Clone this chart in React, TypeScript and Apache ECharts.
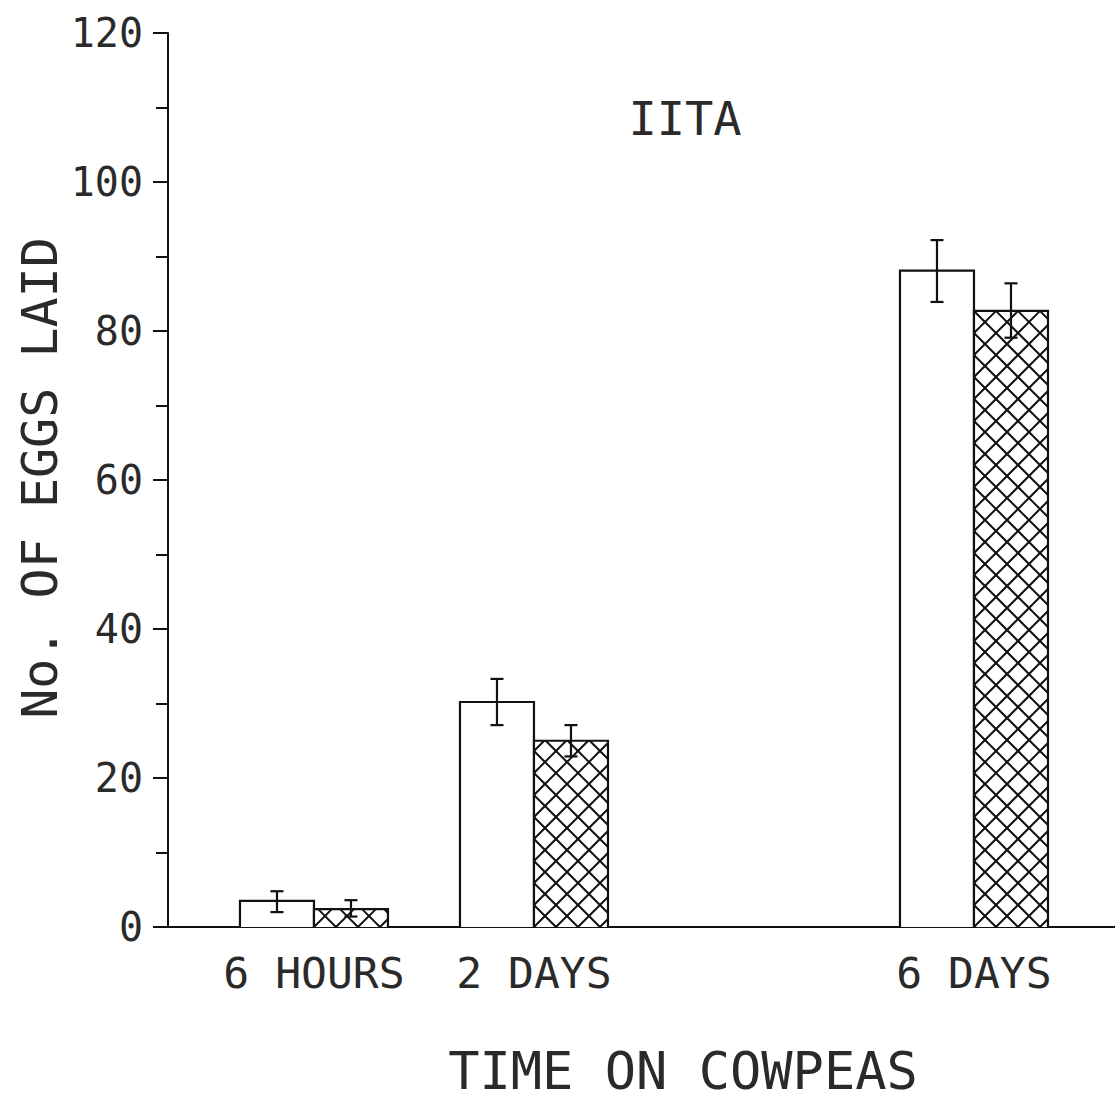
import React, { useEffect, useRef } from "react";
import * as echarts from "echarts";

const categories = ["6 HOURS", "2 DAYS", "6 DAYS"];
const xPositions = [0, 2, 6];
const openMeans = [3.5, 30.2, 88.1];
const openLow = [2.0, 27.1, 83.9];
const openHigh = [4.8, 33.3, 92.2];
const hatchMeans = [2.4, 25.0, 82.7];
const hatchLow = [1.4, 22.9, 79.1];
const hatchHigh = [3.6, 27.1, 86.4];
const yTicks = [0, 20, 40, 60, 80, 100, 120];

const FONT = "'DejaVu Sans Mono', monospace";
const INK = "#111";
const TEXT_INK = "#2a2a2a";
const BAR_PX = 74;
const HATCH_PX = 22;

function hatchLines(x0: number, x1: number, y0: number, y1: number, style: any) {
  const out: any[] = [];
  const cStartA = y1 - x0;
  for (let k = -60; k <= 60; k++) {
    const c = cStartA + k * HATCH_PX;
    const a = Math.max(x0, y0 - c);
    const b = Math.min(x1, y1 - c);
    if (b - a > 0.5) {
      out.push({ type: "line", shape: { x1: a, y1: a + c, x2: b, y2: b + c }, style });
    }
  }
  const cStartB = x0 + y1;
  for (let k = -60; k <= 60; k++) {
    const c = cStartB + k * HATCH_PX;
    const a = Math.max(x0, c - y1);
    const b = Math.min(x1, c - y0);
    if (b - a > 0.5) {
      out.push({ type: "line", shape: { x1: a, y1: c - a, x2: b, y2: c - b }, style });
    }
  }
  return out;
}

function makeRender(hatched: boolean) {
  return (params: any, api: any) => {
    const x = api.value(0);
    const mean = api.value(1);
    const lo = api.value(2);
    const hi = api.value(3);
    const top = api.coord([x, mean]);
    const base = api.coord([x, 0]);
    const pLo = api.coord([x, lo]);
    const pHi = api.coord([x, hi]);
    const cx = top[0];
    const x0 = hatched ? cx : cx - BAR_PX;
    const x1 = hatched ? cx + BAR_PX : cx;
    const y0 = top[1];
    const y1 = base[1];
    const ex = (x0 + x1) / 2;
    const lineStyle = { stroke: INK, lineWidth: 2.2, fill: null };
    const children: any[] = [
      { type: "rect", shape: { x: x0, y: y0, width: x1 - x0, height: y1 - y0 }, style: { fill: "#fff", stroke: null } },
    ];
    if (hatched) children.push(...hatchLines(x0, x1, y0, y1, { stroke: INK, lineWidth: 2 }));
    children.push({
      type: "polyline",
      shape: { points: [[x0, y1], [x0, y0], [x1, y0], [x1, y1]] },
      style: lineStyle,
    });
    const eb = { stroke: INK, lineWidth: 2.2 };
    children.push({ type: "line", shape: { x1: ex, y1: pLo[1], x2: ex, y2: pHi[1] }, style: eb });
    children.push({ type: "line", shape: { x1: ex - 6.5, y1: pLo[1], x2: ex + 6.5, y2: pLo[1] }, style: eb });
    children.push({ type: "line", shape: { x1: ex - 6.5, y1: pHi[1], x2: ex + 6.5, y2: pHi[1] }, style: eb });
    return { type: "group", children };
  };
}

export default function App() {
  const ref = useRef<HTMLDivElement>(null);
  useEffect(() => {
    if (!ref.current) return;
    const chart = echarts.init(ref.current, null, { renderer: "svg" });
    const openData = xPositions.map((x, i) => [x, openMeans[i], openLow[i], openHigh[i]]);
    const hatchData = xPositions.map((x, i) => [x, hatchMeans[i], hatchLow[i], hatchHigh[i]]);
    chart.setOption({
      animation: false,
      backgroundColor: "#fff",
      grid: { left: 168, right: 0, top: 33, bottom: 173 },
      xAxis: {
        type: "value",
        min: -1.327,
        max: 7.282,
        splitLine: { show: false },
        axisLine: { show: true, onZero: false, lineStyle: { color: INK, width: 2 } },
        axisTick: { show: false },
        axisLabel: {
          show: true,
          customValues: xPositions,
          formatter: (v: number) => {
            const i = xPositions.indexOf(v);
            return i >= 0 ? categories[i] : "";
          },
          margin: 24,
          fontFamily: FONT,
          fontSize: 43,
          color: TEXT_INK,
        },
      },
      yAxis: {
        type: "value",
        min: 0,
        max: 120,
        interval: 20,
        splitLine: { show: false },
        axisLine: { show: true, onZero: false, lineStyle: { color: INK, width: 2 } },
        axisTick: { show: true, length: 15, lineStyle: { color: INK, width: 2 } },
        minorTick: { show: true, splitNumber: 2, length: 12, lineStyle: { color: INK, width: 2 } },
        axisLabel: {
          margin: 25,
          fontFamily: FONT,
          fontSize: 40,
          color: TEXT_INK,
          formatter: (v: number) => (yTicks.indexOf(v) >= 0 ? String(v) : ""),
        },
      },
      series: [
        { type: "custom", renderItem: makeRender(false), data: openData, encode: { x: 0, y: [1, 2, 3] }, clip: false, silent: true },
        { type: "custom", renderItem: makeRender(true), data: hatchData, encode: { x: 0, y: [1, 2, 3] }, clip: false, silent: true },
      ],
      graphic: [
        { type: "text", x: 685, y: 118, style: { text: "IITA", fontFamily: FONT, fontSize: 47, fill: TEXT_INK, align: "center", verticalAlign: "middle" } },
        { type: "text", x: 40, y: 478, rotation: Math.PI / 2, style: { text: "No. OF EGGS LAID", fontFamily: FONT, fontSize: 50, fill: TEXT_INK, align: "center", verticalAlign: "middle" } },
        { type: "text", x: 683, y: 1071, style: { text: "TIME ON COWPEAS", fontFamily: FONT, fontSize: 52, fill: TEXT_INK, align: "center", verticalAlign: "middle" } },
      ],
    });
    return () => chart.dispose();
  }, []);
  return <div ref={ref} style={{ position: "absolute", left: 0, top: 0, width: 1115, height: 1100 }} />;
}
